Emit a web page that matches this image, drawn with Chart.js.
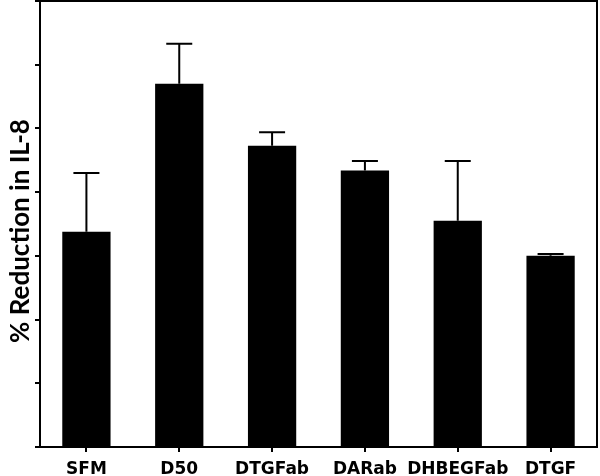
<!DOCTYPE html>
<html>
<head>
<meta charset="utf-8">
<script src="https://cdn.jsdelivr.net/npm/chart.js@4"></script>
<style>
  html, body { margin: 0; padding: 0; background: #fff; }
  #wrap { width: 600px; height: 476px; }
</style>
</head>
<body>
<div id="wrap"><canvas id="c" width="600" height="476"></canvas></div>
<script>
const categories = ['SFM', 'D50', 'DTGFab', 'DARab', 'DHBEGFab', 'DTGF'];
const meanValues = [33.8, 57.0, 47.3, 43.4, 35.5, 30.0];
const errorValues = [9.2, 6.3, 2.1, 1.5, 9.4, 0.3];
const yTitle = '% Reduction in IL-8';
const yMin = 0, yMax = 70, yStep = 10;

const errorBarPlugin = {
  id: 'errorBars',
  afterDatasetsDraw(chart) {
    const ctx = chart.ctx;
    const xs = chart.scales.x, ys = chart.scales.y;
    ctx.save();
    ctx.strokeStyle = '#000';
    ctx.lineWidth = 2;
    meanValues.forEach((v, i) => {
      const x = xs.getPixelForValue(i);
      const y0 = ys.getPixelForValue(v);
      const y1 = ys.getPixelForValue(v + errorValues[i]);
      ctx.beginPath();
      ctx.moveTo(x, y0);
      ctx.lineTo(x, y1);
      ctx.moveTo(x - 13, y1);
      ctx.lineTo(x + 13, y1);
      ctx.stroke();
    });
    ctx.restore();
  }
};

const framePlugin = {
  id: 'frame',
  afterDraw(chart) {
    const {ctx, chartArea: a} = chart;
    ctx.save();
    ctx.strokeStyle = '#000';
    ctx.lineWidth = 2;
    ctx.beginPath();
    ctx.moveTo(a.left, a.top);
    ctx.lineTo(a.right, a.top);
    ctx.lineTo(a.right, a.bottom);
    ctx.stroke();
    // y-axis title
    ctx.fillStyle = '#000';
    ctx.font = 'bold 26px Lato';
    ctx.textAlign = 'center';
    ctx.textBaseline = 'middle';
    ctx.translate(21, 231);
    ctx.rotate(-Math.PI / 2);
    ctx.fillText(yTitle, 0, 0);
    ctx.restore();
  }
};

new Chart(document.getElementById('c'), {
  type: 'bar',
  data: {
    labels: categories,
    datasets: [{
      data: meanValues,
      backgroundColor: '#000',
      borderWidth: 0,
      barPercentage: 0.52,
      categoryPercentage: 1.0
    }]
  },
  options: {
    responsive: false,
    animation: false,
    layout: { padding: { top: 1, right: 3, left: 0, bottom: 0 } },
    plugins: { legend: { display: false }, tooltip: { enabled: false } },
    scales: {
      x: {
        grid: { offset: false, drawOnChartArea: false, drawTicks: true, tickLength: 5, color: '#000', lineWidth: 2 },
        border: { display: true, color: '#000', width: 2 },
        ticks: { color: '#000', font: { family: 'DejaVu Sans', size: 17, weight: 'bold' }, padding: 7, maxRotation: 0, autoSkip: false },
        afterFit(scale) { scale.height = 29; }
      },
      y: {
        min: yMin, max: yMax,
        grid: { drawOnChartArea: false, drawTicks: true, tickLength: 5, color: '#000', lineWidth: 2 },
        border: { display: true, color: '#000', width: 2 },
        ticks: { display: false, stepSize: yStep },
        title: { display: false, text: yTitle },
        afterFit(scale) { scale.width = 40; }
      }
    }
  },
  plugins: [errorBarPlugin, framePlugin]
});
</script>
</body>
</html>
